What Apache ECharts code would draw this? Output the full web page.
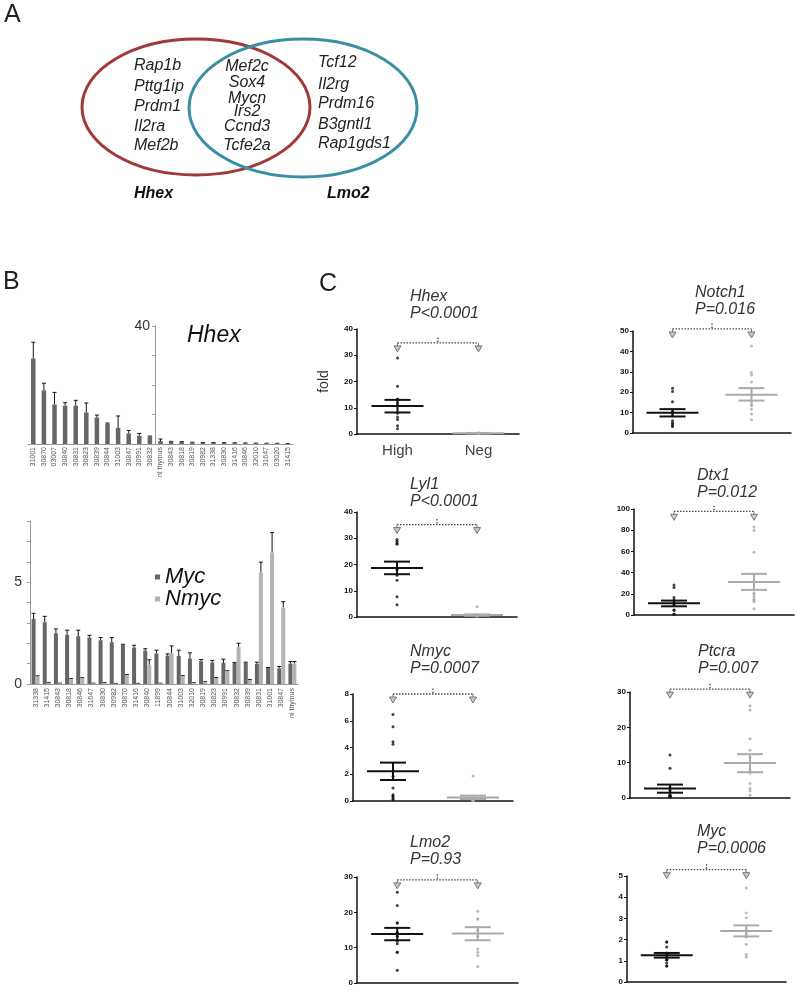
<!DOCTYPE html>
<html>
<head>
<meta charset="utf-8">
<script src="https://cdn.jsdelivr.net/npm/echarts@6/dist/echarts.min.js"></script>
<style>html,body{margin:0;padding:0;background:#fff}#main{width:798px;height:991px}</style>
</head>
<body>
<div id="main"></div>
<script>
var FONT = '"Liberation Sans", Arial, sans-serif';

// panel A gene lists
var hhexOnly = ['Rap1b', 'Pttg1ip', 'Prdm1', 'Il2ra', 'Mef2b'];
var shared = ['Mef2c', 'Sox4', 'Mycn', 'Irs2', 'Ccnd3', 'Tcfe2a'];
var lmo2Only = ['Tcf12', 'Il2rg', 'Prdm16', 'B3gntl1', 'Rap1gds1'];

// panel B, Hhex expression per tumour
var hhexCats = ['31001', '30870', '03007', '30840', '30831', '30823', '30839', '30844', '31003', '30847', '30991', '30832',
    'nl thymus', '30843', '30818', '30819', '30982', '31338', '30830', '31416', '30846', '32010', '31647', '03020', '31415'];
var hhexVal = [29.0, 18.2, 13.4, 13.0, 13.0, 10.7, 9.0, 6.9, 5.5, 3.6, 2.8, 2.5, 1.0, 0.8, 0.7, 0.55, 0.45, 0.45, 0.4, 0.35, 0.3, 0.25, 0.22, 0.2, 0.1];
var hhexErr = [34.5, 20.6, 17.5, 14.0, 14.8, 13.9, 9.8, 7.1, 9.5, 4.6, 3.6, 2.7, 1.7, 0.9, 0.8, 0.6, 0.5, 0.5, 0.45, 0.4, 0.35, 0.3, 0.25, 0.25, 0.15];

// panel B, Myc / Nmyc
var mycCats = ['31338', '31415', '30843', '30818', '30846', '31647', '30830', '30982', '30870', '31416', '30840', '11899',
    '30844', '31003', '32010', '30819', '30823', '30991', '30832', '30839', '30831', '31001', '30847', 'nl thymus'];
var mycVal = [3.19, 3.03, 2.49, 2.41, 2.35, 2.28, 2.15, 2.05, 1.92, 1.79, 1.64, 1.5, 1.4, 1.38, 1.25, 1.12, 1.06, 1.03, 1.04, 1.03, 0.98, 0.78, 0.77, 1.0];
var mycErr = [3.47, 3.32, 2.7, 2.64, 2.64, 2.39, 2.28, 2.28, 1.95, 1.9, 1.73, 1.66, 1.48, 1.66, 1.53, 1.2, 1.16, 1.22, 1.06, 1.07, 1.07, 0.81, 0.86, 1.1];
var nmycVal = [0.37, 0.06, 0.03, 0.24, 0.29, 0.03, 0.06, 0.02, 0.44, 0.02, 0.94, 0.03, 1.51, 0.39, 0.05, 0.1, 0.29, 0.62, 1.81, 0.2, 5.47, 6.45, 3.76, 1.0];
var nmycErr = [0.4, 0.07, 0.04, 0.26, 0.31, 0.04, 0.07, 0.03, 0.46, 0.03, 1.19, 0.04, 1.87, 0.41, 0.06, 0.11, 0.32, 0.65, 2.0, 0.22, 5.98, 7.43, 4.04, 1.1];

// panel C, High vs Neg groups
var groups = ['High', 'Neg'];
var genes = ['Hhex', 'Notch1', 'Lyl1', 'Dtx1', 'Nmyc', 'Ptcra', 'Lmo2', 'Myc'];
var pvals = ['P<0.0001', 'P=0.016', 'P<0.0001', 'P=0.012', 'P=0.0007', 'P=0.007', 'P=0.93', 'P=0.0006'];
var yMax = [40, 50, 40, 100, 8, 30, 30, 5];
var yStep = [10, 10, 10, 20, 2, 10, 10, 1];
var highPts = [
    [29.0, 18.2, 13.1, 13.3, 11.6, 7.9, 6.5, 5.5, 3.1, 2.0],
    [21.9, 20.3, 15.3, 10.6, 10.1, 8.4, 6.0, 4.9, 4.4, 3.6, 3.2],
    [29.5, 28.9, 28.2, 27.7, 18.4, 17.9, 15.9, 14.0, 7.7, 4.7],
    [28.4, 25.9, 16.4, 14.2, 13.2, 10.4, 9.5, 4.7, 4.4, 0.9, 0.6],
    [6.47, 5.55, 4.43, 4.25, 1.85, 0.97, 0.47, 0.37, 0.3, 0.17, 0.1],
    [12.2, 8.4, 3.0, 2.1, 1.1, 0.6, 0.4, 0.5, 0.3, 0.4, 0.7],
    [25.7, 21.9, 17.0, 17.0, 14.2, 14.2, 13.2, 11.8, 11.1, 8.7, 8.7, 3.6],
    [1.89, 1.89, 1.65, 1.37, 1.26, 1.05, 1.05, 1.05, 1.05, 0.9, 0.75, 0.75]
];
var negPts = [
    [0.2, 0.3, 0.25, 0.4, 0.15, 0.3, 0.2, 0.35, 0.25, 0.3, 0.2],
    [42.7, 29.7, 28.4, 25.0, 15.3, 14.0, 13.3, 11.7, 9.3, 6.5],
    [3.9, 0.6, 0.5, 0.7, 0.4, 0.8, 0.6, 0.5, 0.7, 0.6, 0.5],
    [83, 79.8, 59.3, 21.1, 19.6, 17.4, 14.8, 13.6, 12.5, 6.0],
    [1.87, 0.05, 0.05, 0.08, 0.03, 0.06, 0.1, 0.04, 0.05],
    [26.1, 24.9, 16.8, 13.5, 11.5, 7.9, 7.1, 4.1, 2.7, 2.0, 0.8],
    [20.3, 18.1, 18.1, 14.9, 13.2, 9.6, 8.7, 7.8, 4.7],
    [4.43, 3.25, 3.03, 2.44, 2.28, 2.12, 1.78, 1.3, 1.18]
];
// mean and SEM limits per plot: [High, Neg]
var means = [[10.7, 0.3], [9.9, 18.8], [18.7, 0.75], [11, 31.2], [2.22, 0.27], [2.7, 9.9], [13.9, 14.0], [1.26, 2.4]];
var semLo = [[8.2, 0.2], [8.1, 15.9], [16.3, 0.5], [8.2, 23.7], [1.57, 0.15], [1.5, 7.3], [12.1, 12.1], [1.15, 2.15]];
var semHi = [[13.0, 0.4], [11.7, 22.0], [21.1, 1.0], [13.6, 38.8], [2.87, 0.4], [3.8, 12.4], [15.6, 15.8], [1.37, 2.67]];
var bracket = [34.7, 51, 35.2, 97.8, 8.0, 30.8, 29.2, 5.3];

// layout of the eight dot plots
var plotBox = [
    {left: 357, top: 329, width: 162, height: 105, tx: 410, ty: 297},
    {left: 633, top: 331, width: 158, height: 102, tx: 695, ty: 293},
    {left: 357, top: 512, width: 160, height: 105, tx: 410, ty: 485},
    {left: 634, top: 509, width: 160, height: 106, tx: 697, ty: 476},
    {left: 353, top: 694, width: 160, height: 107, tx: 410, ty: 652},
    {left: 630, top: 692, width: 160, height: 106, tx: 698, ty: 652},
    {left: 357, top: 877, width: 161, height: 106, tx: 410, ty: 843},
    {left: 627, top: 876, width: 159, height: 106, tx: 697, ty: 832}
];

function errBars(offset) {
    return function (params, api) {
        var base = api.coord([api.value(0), api.value(1)]);
        var top = api.coord([api.value(0), api.value(2)]);
        var x = base[0] + offset;
        var st = {stroke: '#111', lineWidth: 1};
        return {type: 'group', children: [
            {type: 'line', shape: {x1: x, y1: base[1], x2: x, y2: top[1]}, style: st},
            {type: 'line', shape: {x1: x - 2, y1: top[1], x2: x + 2, y2: top[1]}, style: st}
        ]};
    };
}

function meanSem(params, api) {
    var c = api.value(0);
    var m = api.coord([c, api.value(1)]);
    var lo = api.coord([c, api.value(2)]);
    var hi = api.coord([c, api.value(3)]);
    var st = {stroke: c === 0 ? '#111' : '#aaa', lineWidth: 2};
    var x = m[0];
    return {type: 'group', children: [
        {type: 'line', shape: {x1: x - 26, y1: m[1], x2: x + 26, y2: m[1]}, style: st},
        {type: 'line', shape: {x1: x - 13, y1: lo[1], x2: x + 13, y2: lo[1]}, style: st},
        {type: 'line', shape: {x1: x - 13, y1: hi[1], x2: x + 13, y2: hi[1]}, style: st},
        {type: 'line', shape: {x1: x, y1: lo[1], x2: x, y2: hi[1]}, style: st}
    ]};
}

function bracketItem(params, api) {
    var a = api.coord([0, api.value(1)]);
    var b = api.coord([1, api.value(1)]);
    var y = a[1];
    var mid = (a[0] + b[0]) / 2;
    var st = {stroke: '#444', lineWidth: 1.3, lineDash: [1.5, 1.5]};
    var kids = [
        {type: 'line', shape: {x1: a[0], y1: y, x2: b[0], y2: y}, style: st},
        {type: 'line', shape: {x1: mid, y1: y - 1, x2: mid, y2: y - 7}, style: st}
    ];
    [a[0], b[0]].forEach(function (x) {
        kids.push({type: 'line', shape: {x1: x, y1: y, x2: x, y2: y + 4}, style: {stroke: '#777', lineWidth: 1}});
        kids.push({type: 'polygon', shape: {points: [[x - 3.5, y + 3], [x + 3.5, y + 3], [x, y + 9]]},
            style: {fill: '#c8c8c8', stroke: '#777', lineWidth: 1}});
    });
    return {type: 'group', children: kids};
}

var grids = [
    {left: 28, top: 326, width: 265, height: 118},
    {left: 155, top: 326, width: 138, height: 118},
    {left: 30, top: 521, width: 268, height: 163}
];
var xAxes = [
    {gridIndex: 0, type: 'category', data: hhexCats,
        axisLine: {lineStyle: {color: '#999'}}, axisTick: {length: 3, lineStyle: {color: '#999'}},
        axisLabel: {interval: 0, rotate: 90, fontSize: 7, color: '#555', margin: 3, fontFamily: FONT}},
    {gridIndex: 1, type: 'value', min: 0, max: 1, show: false},
    {gridIndex: 2, type: 'category', data: mycCats,
        axisLine: {lineStyle: {color: '#999'}}, axisTick: {length: 3, lineStyle: {color: '#999'}},
        axisLabel: {interval: 0, rotate: 90, fontSize: 7, color: '#555', margin: 4, fontFamily: FONT}}
];
var yAxes = [
    {gridIndex: 0, type: 'value', min: 0, max: 40, show: false},
    {gridIndex: 1, type: 'value', min: 0, max: 40, interval: 10, splitLine: {show: false},
        axisLine: {show: true, lineStyle: {color: '#999'}}, axisTick: {show: true, length: 3, lineStyle: {color: '#999'}},
        axisLabel: {fontSize: 14, color: '#333', margin: 5, fontFamily: FONT,
            formatter: function (v) { return v === 40 ? '40' : ''; }}},
    {gridIndex: 2, type: 'value', min: 0, max: 8, interval: 1, splitLine: {show: false},
        axisLine: {show: true, lineStyle: {color: '#999'}}, axisTick: {show: true, length: 3, lineStyle: {color: '#999'}},
        axisLabel: {fontSize: 14, color: '#333', margin: 8, fontFamily: FONT,
            formatter: function (v) { return (v === 0 || v === 5) ? String(v) : ''; }}}
];
var series = [
    {type: 'bar', xAxisIndex: 0, yAxisIndex: 0, data: hhexVal, barWidth: 4.5, itemStyle: {color: '#666'}},
    {type: 'custom', xAxisIndex: 0, yAxisIndex: 0, renderItem: errBars(0),
        data: hhexVal.map(function (v, i) { return [i, v, hhexErr[i]]; })},
    {type: 'bar', name: 'Myc', xAxisIndex: 2, yAxisIndex: 2, data: mycVal, barWidth: 4, barGap: '0%', itemStyle: {color: '#666'}},
    {type: 'bar', name: 'Nmyc', xAxisIndex: 2, yAxisIndex: 2, data: nmycVal, barWidth: 4, barGap: '0%', itemStyle: {color: '#b3b3b3'}},
    {type: 'custom', xAxisIndex: 2, yAxisIndex: 2, renderItem: errBars(-2),
        data: mycVal.map(function (v, i) { return [i, v, mycErr[i]]; })},
    {type: 'custom', xAxisIndex: 2, yAxisIndex: 2, renderItem: errBars(2),
        data: nmycVal.map(function (v, i) { return [i, v, nmycErr[i]]; })}
];

var graphics = [];
function txt(x, y, s, size, extra) {
    var st = {text: s, fontSize: size, fontFamily: FONT, fill: '#222', align: 'left', verticalAlign: 'middle'};
    for (var k in extra) st[k] = extra[k];
    graphics.push({type: 'text', x: x, y: y, style: st, z: 10});
}

// panel letters
txt(4, 15, 'A', 25);
txt(3, 282, 'B', 25);
txt(319, 284, 'C', 25);

// Venn diagram
graphics.push({type: 'ellipse', shape: {cx: 196, cy: 107, rx: 114, ry: 68}, style: {fill: 'none', stroke: '#a03a3a', lineWidth: 3}});
graphics.push({type: 'ellipse', shape: {cx: 303, cy: 108, rx: 114, ry: 69}, style: {fill: 'none', stroke: '#3b8fa2', lineWidth: 3}});
var leftY = [66, 87, 107, 127, 146];
var midY = [67, 83, 99, 112, 127, 146];
var rightY = [63, 85, 104, 125, 144];
hhexOnly.forEach(function (g, i) { txt(134, leftY[i], g, 16, {fontStyle: 'italic'}); });
shared.forEach(function (g, i) { txt(247, midY[i], g, 16, {fontStyle: 'italic', align: 'center'}); });
lmo2Only.forEach(function (g, i) { txt(318, rightY[i], g, 16, {fontStyle: 'italic'}); });
txt(134, 194, 'Hhex', 16, {fontStyle: 'italic', fontWeight: 'bold', fill: '#111'});
txt(327, 194, 'Lmo2', 16, {fontStyle: 'italic', fontWeight: 'bold', fill: '#111'});

// Hhex bar chart title
txt(187, 336, 'Hhex', 23, {fontStyle: 'italic', fill: '#111'});

// dot plots
genes.forEach(function (g, k) {
    var box = plotBox[k];
    var gi = grids.length;
    grids.push({left: box.left, top: box.top, width: box.width, height: box.height});
    xAxes.push({gridIndex: gi, type: 'category', data: groups,
        axisLine: {lineStyle: {color: '#111', width: 1.5}},
        axisTick: {alignWithLabel: true, length: 3, lineStyle: {color: '#111'}},
        axisLabel: {show: k === 0, fontSize: 15, color: '#444', margin: 9, fontFamily: FONT}});
    yAxes.push({gridIndex: gi, type: 'value', min: 0, max: yMax[k], interval: yStep[k],
        name: k === 0 ? 'fold' : '', nameLocation: 'middle', nameGap: 26,
        nameTextStyle: {fontSize: 14, color: '#333', fontFamily: FONT},
        splitLine: {show: false},
        axisLine: {show: true, lineStyle: {color: '#111', width: 1.5}},
        axisTick: {show: true, length: 3, lineStyle: {color: '#111'}},
        axisLabel: {fontSize: 8, fontWeight: 'bold', color: '#111', margin: 4, fontFamily: FONT}});
    series.push({type: 'scatter', xAxisIndex: gi, yAxisIndex: gi, symbolSize: 3, itemStyle: {color: '#111'},
        data: highPts[k].map(function (v) { return [0, v]; })});
    series.push({type: 'scatter', xAxisIndex: gi, yAxisIndex: gi, symbolSize: 3, itemStyle: {color: '#aaa'},
        data: negPts[k].map(function (v) { return [1, v]; })});
    series.push({type: 'custom', xAxisIndex: gi, yAxisIndex: gi, renderItem: meanSem,
        data: [0, 1].map(function (c) { return [c, means[k][c], semLo[k][c], semHi[k][c]]; })});
    series.push({type: 'custom', xAxisIndex: gi, yAxisIndex: gi, renderItem: bracketItem,
        data: [[0, bracket[k]]]});
    txt(box.tx, box.ty, g, 16, {fontStyle: 'italic', fill: '#333'});
    txt(box.tx, box.ty + 17, pvals[k], 16, {fontStyle: 'italic', fill: '#333'});
});

var chart = echarts.init(document.getElementById('main'));
chart.setOption({
    animation: false,
    backgroundColor: '#fff',
    textStyle: {fontFamily: FONT},
    grid: grids,
    xAxis: xAxes,
    yAxis: yAxes,
    legend: {data: ['Myc', 'Nmyc'], orient: 'vertical', left: 150, top: 561, icon: 'rect',
        itemWidth: 5, itemHeight: 5, itemGap: 0,
        textStyle: {fontSize: 22, fontStyle: 'italic', color: '#111', fontFamily: FONT}},
    graphic: graphics,
    series: series
});
</script>
</body>
</html>
